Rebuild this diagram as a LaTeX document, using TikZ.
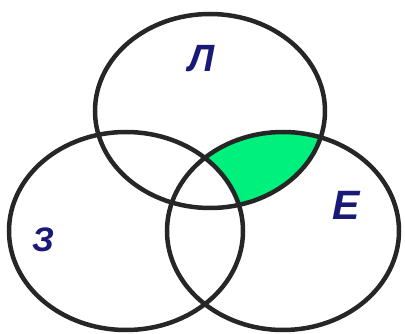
\documentclass[tikz,border=0pt]{standalone}
\usepackage{fontspec}
\setmainfont{Liberation Sans}
\begin{document}
\begin{tikzpicture}[x=1pt,y=-1pt,
  ring/.style={draw=black!85,line width=4.5pt},
  lbl/.style={text=navyblue,inner sep=0pt,font=\bfseries\itshape}]
\definecolor{navyblue}{RGB}{25,25,120}
\definecolor{vgreen}{RGB}{0,240,125}
\useasboundingbox (0,0) rectangle (405,334);
\begin{scope}
  \clip (210,111) ellipse [x radius=115,y radius=97];
  \clip (283,231) ellipse [x radius=116,y radius=99];
  \fill[vgreen] (0,0) rectangle (405,334);
  \fill[white] (126,231) ellipse [x radius=117,y radius=99];
\end{scope}
\draw[ring] (210,111) ellipse [x radius=115,y radius=97];
\draw[ring] (126,231) ellipse [x radius=117,y radius=99];
\draw[ring] (283,231) ellipse [x radius=116,y radius=99];
\node[lbl,font=\fontsize{38}{38}\selectfont\bfseries\itshape] (L) at (202,59) {Л};
\node[lbl,font=\fontsize{34}{34}\selectfont\bfseries\itshape] (Z) at (43,240) {З};
\node[lbl,font=\fontsize{41}{41}\selectfont\bfseries\itshape] (E) at (346,205) {Е};
\end{tikzpicture}
\end{document}
